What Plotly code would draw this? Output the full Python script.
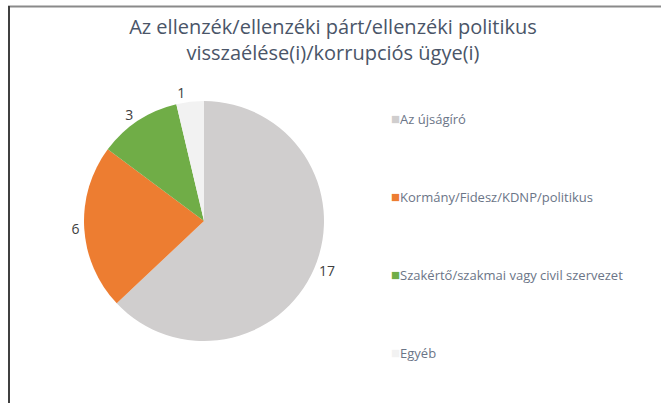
import plotly.graph_objects as go

title_lines = ["Az ellenzék/ellenzéki párt/ellenzéki politikus", "visszaélése(i)/korrupciós ügye(i)"]
categories = ["Az újságíró", "Kormány/Fidesz/KDNP/politikus", "Szakértő/szakmai vagy civil szervezet", "Egyéb"]
values = [17, 6, 3, 1]
colors = ["#D0CECE", "#ED7D31", "#70AD47", "#F2F2F2"]

W, H = 661, 403

fig = go.Figure()
fig.add_trace(go.Pie(
    labels=categories,
    values=values,
    sort=False,
    direction="clockwise",
    rotation=0,
    marker=dict(colors=colors, line=dict(width=0)),
    textinfo="value",
    textposition="outside",
    textfont=dict(family="Open Sans", size=14, color="#404040"),
    showlegend=False,
    domain=dict(x=[84 / W, 324 / W], y=[1 - 341 / H, 1 - 101 / H]),
    hoverinfo="label+value",
))

# legend built from categories/colors
legend_y = [118, 196, 274, 352]
for cat, col, ly in zip(categories, colors, legend_y):
    fig.add_annotation(
        xref="paper", yref="paper", x=389 / W, y=1 - ly / H,
        xanchor="left", yanchor="middle", showarrow=False,
        text=f"<span style='color:{col};font-size:15px'>■</span>{cat}",
        font=dict(family="Open Sans", size=13, color="#6B7587"),
    )

fig.update_layout(
    width=W, height=H,
    margin=dict(l=0, r=0, t=0, b=0),
    paper_bgcolor="white",
    plot_bgcolor="white",
    title=dict(
        text="<br>".join(title_lines),
        x=333 / W, xanchor="center",
        y=1 - 34 / H, yanchor="top",
        font=dict(family="Open Sans", size=20, color="#4A5568"),
    ),
    shapes=[
        dict(type="line", xref="paper", yref="paper", x0=8 / W, x1=1, y0=1 - 6.5 / H, y1=1 - 6.5 / H,
             line=dict(color="#8A8A8A", width=2)),
        dict(type="line", xref="paper", yref="paper", x0=9 / W, x1=9 / W, y0=0, y1=1 - 6 / H,
             line=dict(color="#404040", width=2)),
    ],
)

fig.write_html("out.html", config={"displayModeBar": False},
               post_script="document.body.style.margin='0';")
